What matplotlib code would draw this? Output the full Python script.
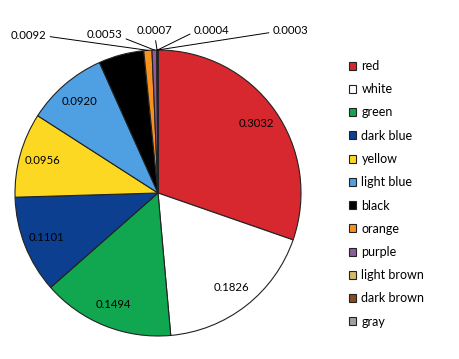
import numpy as np
import matplotlib.pyplot as plt

# slice data, clockwise from 12 o'clock
names = ['red', 'white', 'green', 'dark blue', 'yellow', 'light blue', 'black',
         'orange', 'purple', 'light brown', 'dark brown', 'gray']
values = [0.3032, 0.1826, 0.1494, 0.1101, 0.0956, 0.0920, 0.0512,
          0.0092, 0.0053, 0.0007, 0.0004, 0.0003]
colors = ['#D7272F', '#FFFFFF', '#11A650', '#0C3F8F', '#FDD822', '#4F9FE3', '#000000',
          '#F7921E', '#8E5B9B', '#D8B86A', '#8A4B1E', '#A0A0A0']

plt.rcParams['font.family'] = ['Lato', 'DejaVu Sans']

fig = plt.figure(figsize=(4.6, 3.59), dpi=100)
ax = fig.add_axes([15 / 460, 23 / 359, 286 / 460, 286 / 359])

wedges, _ = ax.pie(values, colors=colors, startangle=90, counterclock=False,
                   wedgeprops=dict(edgecolor='#222222', linewidth=0.8))
ax.set_xlim(-1, 1)
ax.set_ylim(-1, 1)
ax.set_aspect('equal')

fs = 8.2

# value labels inside the large slices
cum = np.cumsum([0] + values)
mids = (cum[:-1] + cum[1:]) / 2
ang = np.deg2rad(90 - mids / cum[-1] * 360)
for i in range(7):
    r = 0.84
    ax.text(r * np.cos(ang[i]), r * np.sin(ang[i]), '%.4f' % values[i],
            ha='center', va='center', fontsize=fs, color='black')

# leader-line labels for the small slices (text anchor in pixels of the picture)
def px(x, y):
    return (x - 158) / 143, (193 - y) / 143

small = [(7, px(46, 35), 'right', (1, 0.4)),
         (8, px(122, 34), 'right', (1, 0.2)),
         (9, px(155, 31), 'center', (0.5, 0)),
         (10, px(194, 31), 'left', (0, 0.4)),
         (11, px(273, 31), 'left', (0, 0.4))]
for i, xyt, ha, rel in small:
    xy = (np.cos(ang[i]), np.sin(ang[i]))
    ax.annotate('%.4f' % values[i], xy=xy, xytext=xyt, ha=ha, va='center',
                fontsize=fs, annotation_clip=False,
                arrowprops=dict(arrowstyle='-', color='black', lw=0.7,
                                shrinkA=1, shrinkB=0, relpos=rel))

fig.legend(wedges, names, loc='upper left', bbox_to_anchor=(344 / 460, 1 - 55 / 359),
           frameon=False, fontsize=9, handlelength=0.6, handleheight=0.6,
           handletextpad=0.4, labelspacing=0.9, borderaxespad=0)

fig.savefig('out.png', dpi=100)
